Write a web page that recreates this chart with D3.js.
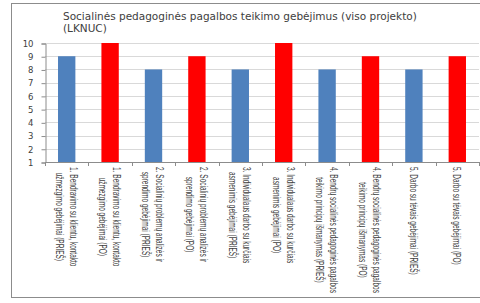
<!DOCTYPE html>
<html>
<head>
<meta charset="utf-8">
<script src="https://cdn.jsdelivr.net/npm/d3@7.9.0/dist/d3.min.js"></script>
<style>
  html, body { margin: 0; padding: 0; background: #fff; }
  svg { display: block; }
</style>
</head>
<body>
<div id="chart"></div>
<script>
// Chart values
const titleLines = ['Socialinės pedagoginės pagalbos teikimo gebėjimus (viso projekto)', '(LKNUC)'];

const categories = [
  ['1. Bendravimo su klientu, kontakto', 'užmezgimo gebėjimai (PRIEŠ)'],
  ['1. Bendravimo su klientu, kontakto', 'užmezgimo gebėjimai (PO)'],
  ['2. Socialinių problemų analizės ir', 'sprendimo gebėjimai (PRIEŠ)'],
  ['2. Socialinių problemų analizės ir', 'sprendimo gebėjimai (PO)'],
  ['3. Individualaus darbo su kurčiais', 'asmenimis gebėjimai (PRIEŠ)'],
  ['3. Individualaus darbo su kurčiais', 'asmenimis gebėjimai (PO)'],
  ['4. Bendrų socialinės pedagoginės pagalbos', 'teikimo principų išmanymas (PRIEŠ)'],
  ['4. Bendrų socialinės pedagoginės pagalbos', 'teikimo principų išmanymas (PO)'],
  ['5. Darbo su tėvais gebėjimai (PRIEŠ)'],
  ['5. Darbo su tėvais gebėjimai (PO)']
];
const values = [9, 10, 8, 9, 8, 10, 8, 9, 8, 9];
const phases = ['PRIEŠ', 'PO', 'PRIEŠ', 'PO', 'PRIEŠ', 'PO', 'PRIEŠ', 'PO', 'PRIEŠ', 'PO'];
const yTicks = [1, 2, 3, 4, 5, 6, 7, 8, 9, 10];

const width = 480;
const height = 303;
const plot = { left: 45, right: 479, top: 43, bottom: 162 };

const svg = d3.select('#chart')
  .append('svg')
  .attr('width', width)
  .attr('height', height);

// outer chart frame (right edge is cut off in the picture)
svg.append('rect')
  .attr('x', 11.5)
  .attr('y', 3.5)
  .attr('width', 480)
  .attr('height', 294)
  .attr('fill', '#fff')
  .attr('stroke', '#8c8c8c')
  .attr('stroke-width', 1);

// title
svg.append('text')
  .attr('x', 63)
  .attr('y', 20)
  .attr('font-family', 'DejaVu Sans')
  .attr('font-size', 10.5)
  .attr('fill', '#404040')
  .selectAll('tspan')
  .data(titleLines)
  .join('tspan')
  .attr('x', 63)
  .attr('dy', (d, i) => i === 0 ? 0 : 11.5)
  .text(d => d);

const idx = d3.range(categories.length);

const xScale = d3.scaleBand()
  .domain(idx)
  .range([plot.left, plot.right])
  .paddingInner(0.6)
  .paddingOuter(0.3);

const step = xScale.step();

const yScale = d3.scaleLinear()
  .domain([1, 10])
  .range([plot.bottom, plot.top]);

// gridlines
svg.append('g')
  .selectAll('line')
  .data(yTicks.filter(d => d > 1))
  .join('line')
  .attr('x1', plot.left)
  .attr('x2', plot.right)
  .attr('y1', d => Math.round(yScale(d)) + 0.5)
  .attr('y2', d => Math.round(yScale(d)) + 0.5)
  .attr('stroke', '#d9d9d9');

// y axis
const yAxis = svg.append('g')
  .attr('transform', `translate(${plot.left + 0.5},0.5)`)
  .call(d3.axisLeft(yScale).tickValues(yTicks).tickSize(4).tickPadding(8));
yAxis.select('.domain').attr('stroke', '#8c8c8c');
yAxis.selectAll('.tick line').attr('stroke', '#8c8c8c');
yAxis.selectAll('.tick text')
  .attr('font-family', 'DejaVu Sans')
  .attr('font-size', 8.5)
  .attr('fill', '#404040');

// bars
svg.append('g')
  .selectAll('rect')
  .data(idx)
  .join('rect')
  .attr('x', i => xScale(i))
  .attr('y', i => yScale(values[i]))
  .attr('width', xScale.bandwidth())
  .attr('height', i => yScale(1) - yScale(values[i]))
  .attr('fill', i => phases[i] === 'PO' ? '#ff0000' : '#4f81bd');

// x axis line and ticks between categories
const xAxis = svg.append('g');
xAxis.append('line')
  .attr('x1', plot.left)
  .attr('x2', plot.right)
  .attr('y1', plot.bottom + 0.5)
  .attr('y2', plot.bottom + 0.5)
  .attr('stroke', '#8c8c8c');
xAxis.selectAll('.xtick')
  .data(d3.range(categories.length + 1))
  .join('line')
  .attr('class', 'xtick')
  .attr('x1', i => Math.round(plot.left + i * step) + 0.5)
  .attr('x2', i => Math.round(plot.left + i * step) + 0.5)
  .attr('y1', plot.bottom)
  .attr('y2', plot.bottom + 4)
  .attr('stroke', '#8c8c8c');

// rotated category labels: first line on the right, lines centred on each other
const lineGap = 14;
const fontSize = 11.5;
const labelTop = plot.bottom + 5;

const labels = xAxis.selectAll('.xlabel')
  .data(idx)
  .join('g')
  .attr('class', 'xlabel');

labels.selectAll('text')
  .data(i => categories[i])
  .join('text')
  .attr('font-family', 'Liberation Sans Narrow, Liberation Sans, sans-serif')
  .attr('font-size', fontSize)
  .attr('fill', '#404040')
  .attr('text-anchor', 'middle')
  .text(d => d);

// squeeze text so the longest line fits the space above the frame bottom
const longest = d3.max(labels.selectAll('text').nodes(), n => n.getComputedTextLength());
const squeeze = 126 / longest;

labels.each(function (i) {
  const g = d3.select(this);
  const lens = g.selectAll('text').nodes().map(n => n.getComputedTextLength() * squeeze);
  const blockLen = d3.max(lens);
  const cx = xScale(i) + xScale.bandwidth() / 2;
  const n = categories[i].length;
  const firstX = cx + (n - 1) * lineGap / 2 - fontSize * 0.35;
  g.attr('transform', `translate(${firstX},${labelTop + blockLen / 2}) rotate(90) scale(${squeeze},1)`);
  g.selectAll('text')
    .attr('x', 0)
    .attr('y', (d, j) => j * lineGap);
});
</script>
</body>
</html>
